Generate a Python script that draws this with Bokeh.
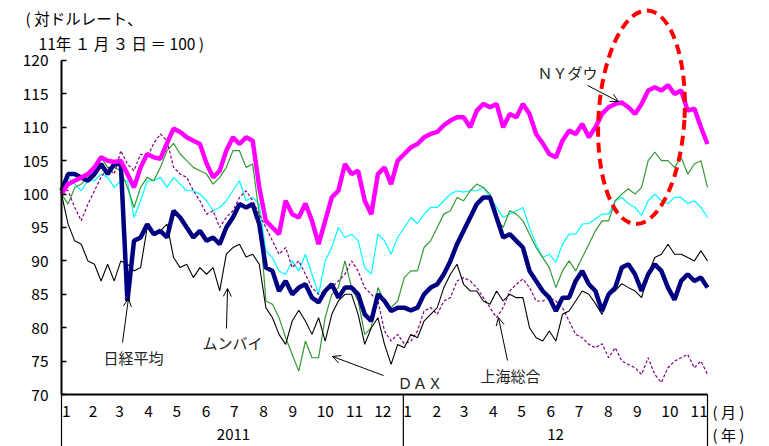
import pandas as pd
from bokeh.plotting import figure
from bokeh.models import Range1d, FixedTicker, ColumnDataSource, Arrow, OpenHead
from bokeh.core.properties import value
from bokeh.embed import file_html
from bokeh.resources import INLINE

# ---------------- data (index, 2011-01-03 = 100, weekly readings) ----------------
base_date = pd.Timestamp("2011-01-01")
week_dates = pd.date_range("2011-01-03", periods=99, freq="7D")

ny_dow = [100, 101.5, 102, 102.5, 103, 104, 105.5, 105, 104.8, 105,
          103, 101, 104, 106, 105.5, 105.3, 107.6, 109.8, 109.3, 108.5,
          108, 107.5, 104.6, 102.5, 103.5, 106.5, 108.5, 107.5, 108.5, 108,
          101, 96, 95, 94, 99, 97, 96.5, 98.6, 96, 92.5,
          96, 99.5, 100.5, 104.5, 103, 103.5, 99, 97, 103, 104,
          101.5, 105, 106, 107, 107.5, 108.5, 109, 109.3, 110.3, 111,
          111.5, 111.5, 110, 112.5, 113.5, 113, 113.5, 110, 112, 111.5,
          113.5, 112, 109, 107.6, 106, 105.5, 108, 109.5, 109, 110.5,
          108.5, 110, 112, 113, 113.5, 113.7, 113, 112, 113.5, 115.5,
          116, 115.5, 116.3, 115, 115.5, 112.5, 112.8, 110, 107.5]

nikkei = [100.5, 103, 103, 102.5, 102, 103, 104.5, 103, 104.5, 104.5,
          84, 93, 93.5, 95.5, 94, 94.5, 93.5, 97.5, 96.5, 95,
          93.5, 94.5, 93, 93.5, 92.5, 95, 96.5, 98.5, 98, 98.5,
          95.5, 89, 88.5, 85.5, 87, 85, 86, 86.5, 84.5, 83.8,
          85.5, 86.5, 84.5, 86, 86, 85, 82, 81, 85, 84,
          82.5, 83, 83, 82.6, 83, 85, 86, 86.5, 88, 90,
          92.5, 94.5, 96.5, 98.5, 99.5, 99.5, 96.5, 93.5, 94, 93,
          92, 88.5, 87, 85.5, 84.5, 82.5, 84.5, 84.5, 87, 88.5,
          86.5, 85.5, 82.5, 85, 86, 89, 89.5, 88, 85.5, 88,
          89.5, 88.5, 86, 84.2, 87, 88, 87, 87.5, 86]

mumbai = [100, 95.5, 93, 92.5, 90, 89.5, 87, 89.5, 87, 90,
          89.5, 88.5, 89, 95, 94, 94.5, 95.5, 90.5, 89, 89.5,
          87.5, 89, 88, 89, 85.5, 91, 92, 92.5, 90.6, 91,
          89.5, 83, 81.5, 79, 77.5, 81, 82.6, 81, 79, 81.5,
          78, 82, 84, 85, 85, 82, 77.5, 80, 81.5, 77.5,
          74.5, 77.5, 77, 79, 78.5, 81, 82, 83, 86, 88,
          89.5, 86.5, 85.5, 85.5, 84, 83.5, 85.5, 84, 85, 84.5,
          84.5, 80, 78.5, 78, 79.5, 78, 82, 82.5, 84, 85.5,
          85, 83.6, 82, 85, 85.5, 86.6, 86, 85.5, 84.5, 88,
          90.5, 91, 92.5, 91, 91, 90.5, 90, 91.5, 90]

dax = [100, 98.5, 101, 101.5, 102.5, 104, 105.5, 104, 104, 103.5,
       101, 98, 101, 102.5, 102, 104, 106.5, 107.6, 106, 105,
       104, 103.5, 103, 101.5, 102.5, 104, 106.5, 106.5, 104, 104.5,
       97, 84, 83.5, 81.5, 78.5, 76, 73.5, 78, 75.5, 75.5,
       81.5, 85, 86, 90, 86, 84, 79, 80, 86, 84,
       83, 84, 87.5, 88.5, 88.5, 92, 93, 95, 97, 97.5,
       99.5, 99, 100.5, 101.5, 101, 100, 96.5, 95, 97.5, 97,
       96, 94, 92, 90.5, 89, 86, 88.5, 90, 88.5, 90.5,
       92.5, 94.5, 96, 96, 99, 100, 100.8, 100, 101, 105,
       106.3, 105, 105, 104, 105.5, 103, 104.5, 105, 101]

other_index = [101, 102.5, 101.5, 100.5, 102, 102, 103, 102.5, 101, 102,
               102, 96.5, 99, 102, 102, 102.5, 101, 102.5, 101.5, 100.5,
               100.5, 100, 99, 97.5, 98, 99, 100.5, 102, 99, 99.5,
               98.5, 91.5, 90.5, 88.5, 88, 90, 88.5, 91, 88, 85,
               90, 92, 95, 93.5, 94, 93, 89, 88, 94, 93,
               91, 93.5, 95, 96.5, 95.6, 97, 98, 98, 99, 100,
               100.5, 100.3, 100.5, 100.5, 101, 99.5, 98, 96.5, 97, 97.5,
               98, 95, 92.5, 90.5, 91, 89.8, 92.5, 94, 94, 95.5,
               95.6, 96.3, 97, 97, 99, 99.5, 98.6, 98, 96.8, 99,
               100, 99, 98.6, 99.5, 99.5, 98.6, 99, 98, 96.5]

shanghai = [101, 100.5, 98, 96, 98.5, 100.5, 102.5, 104, 103, 106.5,
            104.5, 103.5, 106, 105.5, 107.6, 109, 108, 104, 103, 102.5,
            100.5, 99, 97, 97.5, 95, 96.5, 97.5, 99.5, 100.5, 99,
            97, 95, 93, 91, 92, 89, 90, 88, 86, 85,
            85.5, 86, 87, 88, 90, 88.5, 86, 85, 84, 79.5,
            78, 79, 77.6, 78, 79.5, 82.5, 83, 82, 84, 84.5,
            87, 87.5, 87, 86, 84.5, 83, 81.5, 83, 85.5, 86.5,
            87.3, 86, 84, 84, 84.5, 84, 83, 81, 79, 78.5,
            77.5, 77, 77.6, 75.5, 77, 75, 74.5, 74, 73, 75.5,
            73, 71.8, 74, 75, 75.5, 76, 74, 75, 73]

month_labels = [str(m) for m in range(1, 13)] + [str(m) for m in range(1, 12)]
month_starts = pd.date_range("2011-01-01", "2012-11-01", freq="MS")
year_labels = ["2011", "12"]
y_ticks = [70, 75, 80, 85, 90, 95, 100, 105, 110, 115, 120]

# ---------------- figure ----------------
JP = "Noto Sans CJK JP"
X0, X1 = 2, 688          # first / last trading week (days after 2011-01-01)
YEAR_SPLIT = 365
x_days = (week_dates - base_date).days.values
month_days = [max(d, 2.6) for d in (month_starts - base_date).days.values]

p = figure(width=769, height=446, output_backend="svg", toolbar_location=None,
           x_range=Range1d(-62.78, 753.83), y_range=Range1d(62.216, 128.98),
           min_border_left=0, min_border_right=0, min_border_top=0,
           min_border_bottom=0)
p.outline_line_color = None
p.grid.visible = False

p.yaxis.fixed_location = X0
p.yaxis.ticker = FixedTicker(ticks=y_ticks)
p.yaxis.bounds = (70, 120)
p.yaxis.major_tick_in = 5
p.yaxis.major_tick_out = 0
p.yaxis.minor_tick_line_color = None
p.yaxis.axis_line_width = 2
p.yaxis.major_tick_line_width = 1.5
p.yaxis.major_label_text_font = JP
p.yaxis.major_label_text_font_size = "15.5px"
p.yaxis.major_label_text_color = "black"
p.yaxis.major_label_standoff = 13

p.xaxis.fixed_location = 70
p.xaxis.ticker = FixedTicker(ticks=[])
p.xaxis.bounds = (X0, X1)
p.xaxis.major_tick_line_color = None
p.xaxis.minor_tick_line_color = None
p.xaxis.axis_line_width = 2

# separators under the time axis (start, year boundary, end)
p.segment(x0=[X0, YEAR_SPLIT, X1], y0=[70, 70, 70],
          x1=[X0, YEAR_SPLIT, X1], y1=[62.216] * 3,
          line_color="black", line_width=1.2)

src = ColumnDataSource(dict(x=x_days, ny=ny_dow, nk=nikkei, mb=mumbai, dx=dax,
                            ot=other_index, sh=shanghai))
p.line("x", "ot", source=src, line_color="#00FFFF", line_width=1.2)
p.line("x", "dx", source=src, line_color="#339933", line_width=1.2)
p.line("x", "sh", source=src, line_color="#800080", line_width=1.2, line_dash="3 2")
p.line("x", "mb", source=src, line_color="black", line_width=1.1)
p.line("x", "nk", source=src, line_color="#000080", line_width=4.5)
p.line("x", "ny", source=src, line_color="#FF00FF", line_width=4.5)

# red dashed ellipse
p.ellipse(x=[617.9], y=[111.5], width=[86], height=[214], angle=-0.06,
          width_units="screen", height_units="screen",
          fill_color=None, line_color="#FF0000", line_width=4, line_dash="10 6")

# series labels
lab_src = ColumnDataSource(dict(
    x=[507.5, 46.6, 151.7, 358.8, 447.0],
    y=[118.2, 75.5, 77.8, 71.8, 72.85],
    t=["ＮＹダウ", "日経平均", "ムンバイ", "ＤＡＸ", "上海総合"]))
p.text("x", "y", text="t", source=lab_src, text_font=value(JP),
       text_font_size="15px", text_color="#222222", text_align="left",
       text_baseline="middle")

arrows = [(560.6, 116.26, 593.5, 113.86), (66.8, 77.78, 73.1, 84.37),
          (177.2, 79.88, 178.3, 85.87), (343.9, 72.84, 289.8, 75.69),
          (475.6, 75.09, 466.0, 81.53)]
for xs, ys, xe, ye in arrows:
    p.add_layout(Arrow(end=OpenHead(size=8, line_width=1, line_color="black"),
                       x_start=xs, y_start=ys, x_end=xe, y_end=ye,
                       line_color="black", line_width=1))

# month labels and year labels below the axis
p.text(x=month_days, y=[67.46] * len(month_days), text=month_labels,
       text_font=value(JP), text_font_size="15.5px", text_color="black",
       text_align="left", text_baseline="middle")
p.text(x=[2 + 172 / 0.9417, 2 + 494 / 0.9417], y=[64.0, 64.0], text=year_labels,
       text_font=value(JP), text_font_size="15px", text_color="black",
       text_align="center", text_baseline="middle")
p.text(x=[693.3, 693.3], y=[67.46, 64.0], text=["( 月 )", "( 年 )"],
       text_font=value(JP), text_font_size="15px", text_color="black",
       text_align="left", text_baseline="middle")

# unit note at top-left
p.text(x=[-36.2, -22.4], y=[126.29, 122.69],
       text=["( 対ドルレート、", "11年 １ 月 ３ 日 ＝ 100 )"],
       text_font=value(JP), text_font_size="15.5px", text_color="black",
       text_align="left", text_baseline="middle")

open("out.html", "w").write(file_html(p, INLINE))
